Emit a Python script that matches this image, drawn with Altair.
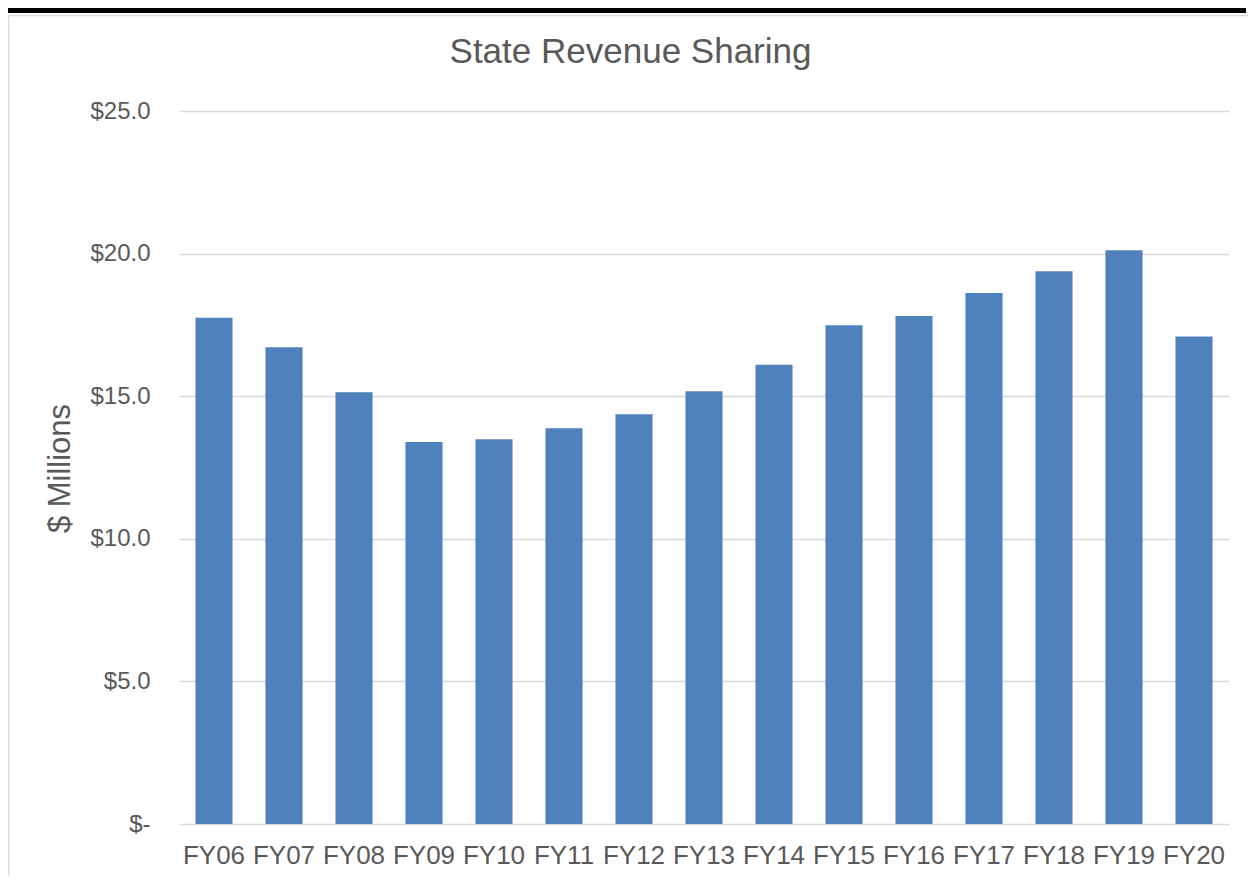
import altair as alt
import pandas as pd

years = ["FY06", "FY07", "FY08", "FY09", "FY10", "FY11", "FY12", "FY13",
         "FY14", "FY15", "FY16", "FY17", "FY18", "FY19", "FY20"]
revenue = [17.75, 16.72, 15.14, 13.39, 13.49, 13.88, 14.37, 15.17,
           16.10, 17.49, 17.81, 18.62, 19.38, 20.12, 17.09]
y_ticks = [0, 5, 10, 15, 20, 25]
title_text = "State Revenue Sharing"
y_title = "$ Millions"

FONT = "Liberation Sans"
TXT = "#595959"

df = pd.DataFrame({"year": years, "revenue": revenue})

bars = alt.Chart(df).mark_bar(color="#4f81bd").encode(
    x=alt.X("year:N", sort=years,
            scale=alt.Scale(paddingInner=0.47, paddingOuter=0.235),
            axis=alt.Axis(title=None, labelAngle=0, domain=False, ticks=False,
                          labelFontSize=26, labelFont=FONT, labelColor=TXT,
                          labelPadding=18)),
    y=alt.Y("revenue:Q",
            scale=alt.Scale(domain=[0, 25], nice=False),
            axis=alt.Axis(values=y_ticks, domain=False, ticks=False, tickSize=0,
                          labelPadding=29, labelFontSize=24, labelFont=FONT,
                          labelColor=TXT,
                          labelExpr="datum.value == 0 ? '$-\u00a0' : '$' + format(datum.value, '.1f')",
                          gridColor="#d9d9d9", gridWidth=1.5,
                          title=y_title, titleFont=FONT, titleFontSize=31,
                          titleFontWeight="normal", titleColor=TXT,
                          titleAngle=270, titleX=-119, titleY=357,
                          titleAlign="center", titleBaseline="middle")),
)

title_df = pd.DataFrame({"t": [title_text]})
title = alt.Chart(title_df).mark_text(
    font=FONT, fontSize=35, color=TXT, align="center", baseline="alphabetic"
).encode(text="t:N", x=alt.value(451.5), y=alt.value(-48))

deco_df = pd.DataFrame({"d": [0]})
thick = alt.Chart(deco_df).mark_rule(color="black", strokeWidth=6).encode(
    x=alt.value(-172), x2=alt.value(1067), y=alt.value(-101))
gray_h = alt.Chart(deco_df).mark_rule(color="#d9d9d9", strokeWidth=1.5).encode(
    x=alt.value(-172), x2=alt.value(1078), y=alt.value(-95.5))
gray_v = alt.Chart(deco_df).mark_rule(color="#d9d9d9", strokeWidth=2.5).encode(
    x=alt.value(-171), y=alt.value(-96), y2=alt.value(770))

chart = alt.layer(bars, title, thick, gray_h, gray_v).properties(
    width=1050, height=713,
    padding={"left": 171, "top": 103, "right": 19, "bottom": 52},
    autosize=alt.AutoSizeParams(type="none"),
    background="white",
).configure_view(stroke=None)

chart.save("out.html", embed_options={"renderer": "svg", "actions": False})
